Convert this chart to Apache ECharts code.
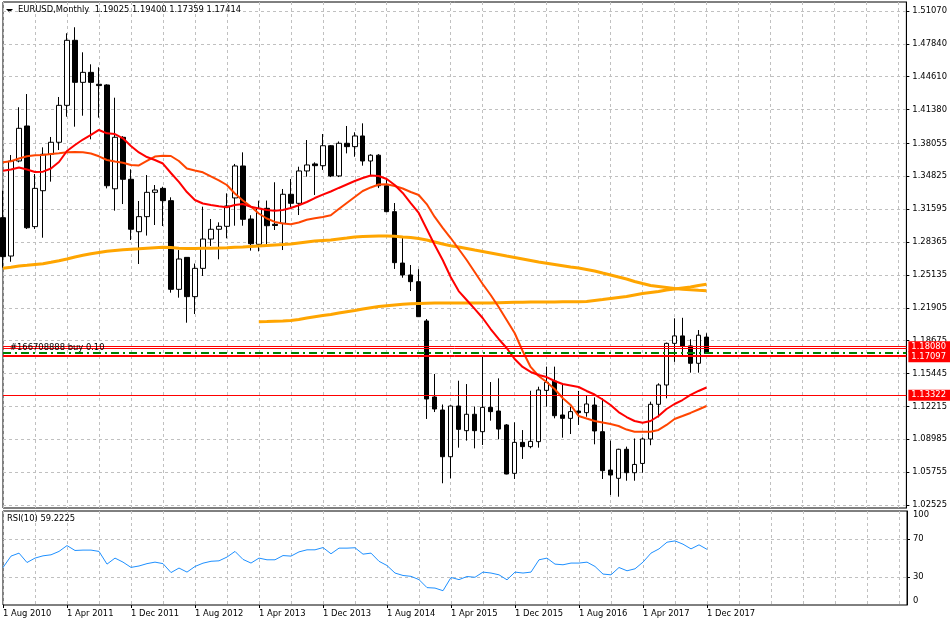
<!DOCTYPE html>
<html lang="en">
<head>
<meta charset="utf-8">
<title>EURUSD, Monthly</title>
<style>
  * { margin: 0; padding: 0; }
  html, body { background: #fff; }
  #chart-container { width: 950px; height: 626px; }
</style>
</head>
<body>
<div id="chart-container"></div>
<script src="https://fastly.jsdelivr.net/npm/echarts@6/dist/echarts.min.js"></script>
<script>
  var dom = document.getElementById('chart-container');
  var myChart = echarts.init(dom, null, { renderer: 'canvas' });

  const FONT = '"DejaVu Sans", Verdana, sans-serif';
  const FONT_SIZE = 8.4;
  const GRID_LINE = { color: '#c0c0c0', type: [3, 3], width: 1 };

  // months on the axis (the chart keeps empty space after the last bar)
  const categories = [
    '1 Aug 2010', '1 Sep 2010', '1 Oct 2010', '1 Nov 2010', '1 Dec 2010',
    '1 Jan 2011', '1 Feb 2011', '1 Mar 2011', '1 Apr 2011', '1 May 2011', '1 Jun 2011',
    '1 Jul 2011', '1 Aug 2011', '1 Sep 2011', '1 Oct 2011', '1 Nov 2011', '1 Dec 2011',
    '1 Jan 2012', '1 Feb 2012', '1 Mar 2012', '1 Apr 2012', '1 May 2012', '1 Jun 2012',
    '1 Jul 2012', '1 Aug 2012', '1 Sep 2012', '1 Oct 2012', '1 Nov 2012', '1 Dec 2012',
    '1 Jan 2013', '1 Feb 2013', '1 Mar 2013', '1 Apr 2013', '1 May 2013', '1 Jun 2013',
    '1 Jul 2013', '1 Aug 2013', '1 Sep 2013', '1 Oct 2013', '1 Nov 2013', '1 Dec 2013',
    '1 Jan 2014', '1 Feb 2014', '1 Mar 2014', '1 Apr 2014', '1 May 2014', '1 Jun 2014',
    '1 Jul 2014', '1 Aug 2014', '1 Sep 2014', '1 Oct 2014', '1 Nov 2014', '1 Dec 2014',
    '1 Jan 2015', '1 Feb 2015', '1 Mar 2015', '1 Apr 2015', '1 May 2015', '1 Jun 2015',
    '1 Jul 2015', '1 Aug 2015', '1 Sep 2015', '1 Oct 2015', '1 Nov 2015', '1 Dec 2015',
    '1 Jan 2016', '1 Feb 2016', '1 Mar 2016', '1 Apr 2016', '1 May 2016', '1 Jun 2016',
    '1 Jul 2016', '1 Aug 2016', '1 Sep 2016', '1 Oct 2016', '1 Nov 2016', '1 Dec 2016',
    '1 Jan 2017', '1 Feb 2017', '1 Mar 2017', '1 Apr 2017', '1 May 2017', '1 Jun 2017',
    '1 Jul 2017', '1 Aug 2017', '1 Sep 2017', '1 Oct 2017', '1 Nov 2017', '1 Dec 2017',
    '1 Jan 2018', '1 Feb 2018', '1 Mar 2018', '1 Apr 2018', '1 May 2018', '1 Jun 2018',
    '1 Jul 2018', '1 Aug 2018', '1 Sep 2018', '1 Oct 2018', '1 Nov 2018', '1 Dec 2018',
    '1 Jan 2019', '1 Feb 2019', '1 Mar 2019', '1 Apr 2019', '1 May 2019', '1 Jun 2019',
    '1 Jul 2019', '1 Aug 2019', '1 Sep 2019', '1 Oct 2019', '1 Nov 2019', '1 Dec 2019',
    '1 Jan 2020'
  ];

  // monthly OHLC, Aug 2010 .. Dec 2017
  const open = [
    1.3076, 1.2699, 1.3633, 1.3977, 1.2988, 1.3341, 1.3699, 1.3817, 1.4180, 1.4819,
    1.4406, 1.4504, 1.4387, 1.4380, 1.3360, 1.3866, 1.3453, 1.2938, 1.3086, 1.3325,
    1.3364, 1.3243, 1.2372, 1.2686, 1.2300, 1.2578, 1.2866, 1.2962, 1.2991, 1.3270,
    1.3584, 1.3063, 1.2814, 1.3168, 1.3011, 1.3021, 1.3306, 1.3217, 1.3535, 1.3604,
    1.3587, 1.3783, 1.3486, 1.3807, 1.3774, 1.3879, 1.3633, 1.3690, 1.3390, 1.3135,
    1.2630, 1.2513, 1.2447, 1.2061, 1.1314, 1.1186, 1.0727, 1.1225, 1.0983, 1.1144,
    1.0973, 1.1212, 1.1176, 1.1039, 1.0564, 1.0868, 1.0826, 1.0875, 1.1379, 1.1471,
    1.1137, 1.1104, 1.1176, 1.1160, 1.1235, 1.0973, 1.0596, 1.0515, 1.0800, 1.0570,
    1.0661, 1.0901, 1.1242, 1.1432, 1.1841, 1.1914, 1.1816, 1.1645, 1.19025
  ];
  const high = [
    1.3341, 1.3692, 1.4161, 1.4291, 1.3505, 1.3767, 1.3869, 1.4262, 1.4888, 1.4947,
    1.4701, 1.4583, 1.4554, 1.4387, 1.4255, 1.3877, 1.3551, 1.3240, 1.3495, 1.3397,
    1.3380, 1.3276, 1.2758, 1.2686, 1.2625, 1.3184, 1.3063, 1.3030, 1.3315, 1.3604,
    1.3718, 1.3100, 1.3243, 1.3244, 1.3424, 1.3358, 1.3456, 1.3577, 1.3839, 1.3620,
    1.3898, 1.3790, 1.3825, 1.3977, 1.3915, 1.4003, 1.3699, 1.3700, 1.3446, 1.3220,
    1.2896, 1.2611, 1.2570, 1.2080, 1.1540, 1.1240, 1.1230, 1.1474, 1.1441, 1.1220,
    1.1717, 1.1461, 1.1497, 1.1048, 1.1065, 1.0989, 1.1375, 1.1415, 1.1612, 1.1612,
    1.1448, 1.1219, 1.1373, 1.1327, 1.1310, 1.1300, 1.0885, 1.0805, 1.0826, 1.0906,
    1.0917, 1.1268, 1.1448, 1.1848, 1.2087, 1.2092, 1.1881, 1.1972, 1.19400
  ];
  const low = [
    1.2585, 1.2643, 1.3620, 1.2965, 1.2965, 1.2879, 1.3430, 1.3741, 1.4068, 1.3970,
    1.4078, 1.3846, 1.4059, 1.3364, 1.3145, 1.3210, 1.2857, 1.2621, 1.2900, 1.3004,
    1.2994, 1.2339, 1.2290, 1.2044, 1.2129, 1.2503, 1.2798, 1.2667, 1.2873, 1.2997,
    1.2997, 1.2752, 1.2745, 1.2801, 1.2955, 1.2758, 1.3174, 1.3102, 1.3479, 1.3299,
    1.3545, 1.3475, 1.3475, 1.3708, 1.3675, 1.3587, 1.3495, 1.3367, 1.3130, 1.2572,
    1.2486, 1.2355, 1.2100, 1.1098, 1.1166, 1.0466, 1.0515, 1.0816, 1.0885, 1.0809,
    1.0842, 1.1081, 1.0898, 1.0554, 1.0508, 1.0705, 1.0810, 1.0816, 1.1219, 1.1104,
    1.0914, 1.0950, 1.1039, 1.1120, 1.0849, 1.0508, 1.0351, 1.0334, 1.0491, 1.0491,
    1.0570, 1.0840, 1.1113, 1.1301, 1.1659, 1.1717, 1.1553, 1.1553, 1.17359
  ];
  const close = [
    1.2693, 1.3633, 1.3954, 1.2977, 1.3364, 1.3699, 1.3817, 1.4180, 1.4819, 1.4406,
    1.4504, 1.4406, 1.4374, 1.3390, 1.3866, 1.3453, 1.2962, 1.3086, 1.3325, 1.3348,
    1.3243, 1.2372, 1.2670, 1.2300, 1.2578, 1.2866, 1.2962, 1.2991, 1.3191, 1.3584,
    1.3060, 1.2820, 1.3168, 1.2997, 1.2999, 1.3306, 1.3217, 1.3535, 1.3594, 1.3587,
    1.3783, 1.3486, 1.3807, 1.3774, 1.3879, 1.3633, 1.3690, 1.3390, 1.3135, 1.2634,
    1.2513, 1.2447, 1.2103, 1.1294, 1.1196, 1.0727, 1.1225, 1.0996, 1.1144, 1.0983,
    1.1212, 1.1170, 1.0999, 1.0557, 1.0868, 1.0826, 1.0878, 1.1383, 1.1458, 1.1130,
    1.1104, 1.1170, 1.1160, 1.1245, 1.0980, 1.0590, 1.0547, 1.0800, 1.0570, 1.0651,
    1.0901, 1.1242, 1.1432, 1.1841, 1.1914, 1.1816, 1.1645, 1.1921, 1.17414
  ];

  // moving averages
  const maRed = [
    1.3538, 1.3549, 1.3569, 1.3549, 1.3525, 1.3528, 1.3559, 1.3623, 1.3731, 1.3790,
    1.3844, 1.3889, 1.3938, 1.3905, 1.3898, 1.3856, 1.3780, 1.3717, 1.3672, 1.3643,
    1.3608, 1.3515, 1.3427, 1.3328, 1.3250, 1.3215, 1.3201, 1.3188, 1.3178, 1.3201,
    1.3210, 1.3184, 1.3166, 1.3151, 1.3145, 1.3151, 1.3171, 1.3198, 1.3230, 1.3269,
    1.3302, 1.3333, 1.3368, 1.3402, 1.3436, 1.3466, 1.3491, 1.3486, 1.3456, 1.3397,
    1.3319, 1.3220, 1.3122, 1.2965, 1.2808, 1.2660, 1.2493, 1.2355, 1.2267, 1.2179,
    1.2090, 1.1982, 1.1884, 1.1795, 1.1687, 1.1609, 1.1560, 1.1530, 1.1510, 1.1471,
    1.1442, 1.1427, 1.1412, 1.1373, 1.1338, 1.1289, 1.1235, 1.1166, 1.1117, 1.1078,
    1.1061, 1.1078, 1.1127, 1.1196, 1.1245, 1.1284, 1.1334, 1.1373, 1.1407
  ];
  const maOrangeRed = [
    1.3620, 1.3630, 1.3658, 1.3679, 1.3689, 1.3692, 1.3702, 1.3709, 1.3719, 1.3721,
    1.3719, 1.3707, 1.3679, 1.3643, 1.3628, 1.3616, 1.3594, 1.3589, 1.3633, 1.3677,
    1.3685, 1.3682, 1.3633, 1.3559, 1.3540, 1.3522, 1.3481, 1.3443, 1.3397, 1.3314,
    1.3245, 1.3186, 1.3117, 1.3068, 1.3034, 1.3019, 1.3011, 1.3029, 1.3055, 1.3070,
    1.3083, 1.3099, 1.3161, 1.3220, 1.3279, 1.3338, 1.3373, 1.3402, 1.3404, 1.3387,
    1.3363, 1.3328, 1.3299, 1.3210, 1.3083, 1.2975, 1.2876, 1.2768, 1.2660, 1.2542,
    1.2424, 1.2316, 1.2198, 1.2070, 1.1943, 1.1766, 1.1609, 1.1520, 1.1461, 1.1392,
    1.1304, 1.1236, 1.1127, 1.1102, 1.1078, 1.1063, 1.1048, 1.1029, 1.0994, 1.0973,
    1.0973, 1.0973, 1.0990, 1.1039, 1.1098, 1.1127, 1.1157, 1.1191, 1.1225
  ];
  const maLong = [
    1.2579, 1.2588, 1.2601, 1.2608, 1.2616, 1.2624, 1.2638, 1.2653, 1.2670, 1.2690,
    1.2706, 1.2722, 1.2734, 1.2746, 1.2754, 1.2761, 1.2766, 1.2770, 1.2776, 1.2781,
    1.2785, 1.2782, 1.2776, 1.2772, 1.2773, 1.2775, 1.2776, 1.2778, 1.2781, 1.2785,
    1.2788, 1.2793, 1.2798, 1.2803, 1.2808, 1.2812, 1.2817, 1.2827, 1.2837, 1.2847,
    1.2852, 1.2857, 1.2867, 1.2876, 1.2886, 1.2891, 1.2894, 1.2896, 1.2896, 1.2893,
    1.2886, 1.2881, 1.2871, 1.2857, 1.2837, 1.2817, 1.2801, 1.2788, 1.2773, 1.2758,
    1.2744, 1.2729, 1.2714, 1.2699, 1.2685, 1.2670, 1.2655, 1.2640, 1.2628, 1.2616,
    1.2604, 1.2591, 1.2581, 1.2567, 1.2552, 1.2532, 1.2513, 1.2493, 1.2473, 1.2449,
    1.2429, 1.2410, 1.2400, 1.2390, 1.2380, 1.2373, 1.2367, 1.2362, 1.2358
  ];
  // the longest average only starts at Apr 2013
  const maLongestStart = 32;
  const maLongest = [
    1.2054, 1.2056, 1.2059, 1.2061, 1.2066, 1.2075, 1.2090, 1.2103,
    1.2115, 1.2125, 1.2139, 1.2152, 1.2164, 1.2178, 1.2191, 1.2203, 1.2211, 1.2218,
    1.2225, 1.2230, 1.2233, 1.2236, 1.2238, 1.2238, 1.2238, 1.2238, 1.2238, 1.2238,
    1.2238, 1.2238, 1.2240, 1.2242, 1.2244, 1.2246, 1.2248, 1.2248, 1.2248, 1.2248,
    1.2250, 1.2251, 1.2251, 1.2253, 1.2263, 1.2272, 1.2282, 1.2292, 1.2302, 1.2317,
    1.2331, 1.2341, 1.2351, 1.2366, 1.2375, 1.2385, 1.2395, 1.2410, 1.2421
  ];

  const rsi = [
    39.9, 52.0, 55.2, 45.2, 49.9, 52.3, 53.4, 57.0, 63.2, 58.0,
    58.4, 58.4, 57.0, 43.5, 49.9, 45.6, 40.0, 41.5, 44.0, 45.6,
    44.0, 34.5, 39.3, 35.0, 41.0, 44.5, 46.5, 47.0, 51.0, 57.0,
    48.5, 44.6, 49.9, 48.1, 48.1, 52.6, 52.0, 56.5, 58.7, 58.7,
    61.1, 54.5, 60.5, 60.5, 60.9, 54.1, 55.2, 46.5, 42.0, 34.0,
    31.4, 30.5, 27.0, 18.5, 18.0, 15.2, 29.3, 27.0, 30.3, 29.5,
    35.0, 34.0, 32.1, 26.8, 35.0, 34.0, 35.0, 48.1, 49.9, 43.5,
    42.8, 44.6, 44.6, 45.6, 41.0, 32.9, 32.1, 39.9, 36.4, 38.5,
    45.6, 55.2, 59.7, 66.8, 68.2, 64.7, 59.7, 64.0, 59.2225
  ];

  const priceTicks = [1.02525, 1.05755, 1.08985, 1.12215, 1.15445, 1.18675, 1.21905, 1.25135,
    1.28365, 1.31595, 1.34825, 1.38055, 1.41380, 1.44610, 1.47840, 1.51070];
  const rsiLabels = [0, 30, 70, 100];
  const rsiLevels = [30, 70];

  // order / stop lines
  const redLevels = [1.1808, 1.1792, 1.1724, 1.17097];
  const taggedLevels = [1.1808, 1.17097];
  const stopLevel = 1.13322;
  const openLevel = 1.1752;
  const orderText = '#166708888 buy 0.10';

  const last = open.length - 1;
  const labelEvery = function (index) { return index % 8 === 0 && index <= last; };

  const candleData = open.map(function (o, i) { return [o, close[i], low[i], high[i]]; });
  const longestData = new Array(maLongestStart).fill(null).concat(maLongest);

  const axisText = { color: '#000', fontSize: FONT_SIZE, fontFamily: FONT };
  const priceTag = {
    show: true, position: 'end', distance: 2,
    color: '#fff', backgroundColor: '#ff0000', padding: [2, 4, 1, 3],
    fontSize: FONT_SIZE, fontFamily: FONT,
    formatter: function (p) { return Number(p.value).toFixed(5); }
  };

  const lineMarks = redLevels.map(function (v) {
    return {
      yAxis: v,
      lineStyle: { color: '#ff0000', width: 1, type: 'solid' },
      label: taggedLevels.indexOf(v) >= 0 ? priceTag : { show: false }
    };
  });
  lineMarks.push({
    yAxis: stopLevel,
    lineStyle: { color: '#ff0000', width: 1, type: 'solid' },
    label: priceTag
  });
  lineMarks.push({
    yAxis: openLevel,
    lineStyle: { color: '#008000', width: 2, type: [8, 4, 2, 4] },
    label: {
      show: true, position: 'insideStartTop', distance: [7, 1],
      color: '#000', fontSize: FONT_SIZE, fontFamily: FONT,
      formatter: orderText
    }
  });

  function maSeries(data, color, width) {
    return {
      type: 'line', xAxisIndex: 0, yAxisIndex: 0, data: data,
      showSymbol: false, silent: true, z: 4,
      lineStyle: { color: color, width: width }
    };
  }

  var option = {
    animation: false,
    backgroundColor: '#fff',
    textStyle: { fontFamily: FONT },
    title: [
      {
        text: 'EURUSD,Monthly  ' + [open[last], high[last], low[last], close[last]].map(function (v) { return v.toFixed(5); }).join(' '),
        left: 18, top: 6, padding: 0,
        textStyle: { color: '#000', fontSize: FONT_SIZE, fontWeight: 'normal', fontFamily: FONT }
      },
      {
        text: 'RSI(10) ' + rsi[last],
        left: 7, top: 515, padding: 0,
        textStyle: { color: '#000', fontSize: FONT_SIZE, fontWeight: 'normal', fontFamily: FONT }
      }
    ],
    graphic: [
      { type: 'polygon', shape: { points: [[6, 9], [13, 9], [9.5, 12.5]] }, style: { fill: '#000' } }
    ],
    grid: [
      { left: 3, top: 2, width: 904, height: 506, show: true, borderColor: '#000', borderWidth: 1 },
      { left: 3, top: 511, width: 904, height: 94, show: true, borderColor: '#000', borderWidth: 1 }
    ],
    xAxis: [
      {
        gridIndex: 0, type: 'category', data: categories, boundaryGap: false,
        axisLine: { show: false }, axisTick: { show: false }, axisLabel: { show: false },
        splitLine: { show: true, interval: 3, lineStyle: GRID_LINE }
      },
      {
        gridIndex: 1, type: 'category', data: categories, boundaryGap: false,
        axisLine: { show: false },
        axisTick: { show: true, interval: labelEvery, length: 3, lineStyle: { color: '#000' } },
        axisLabel: Object.assign({ show: true, interval: labelEvery, align: 'left', margin: 5 }, axisText),
        splitLine: { show: true, interval: 3, lineStyle: GRID_LINE }
      }
    ],
    yAxis: [
      {
        gridIndex: 0, type: 'value', position: 'right', min: 1.0223, max: 1.51954,
        axisLine: { show: true, lineStyle: { color: '#000' } },
        axisTick: { show: true, length: 3, customValues: priceTicks, lineStyle: { color: '#000' } },
        axisLabel: Object.assign({
          customValues: priceTicks, margin: 6,
          formatter: function (v) { return v.toFixed(5); }
        }, axisText),
        splitLine: { show: true, lineStyle: GRID_LINE }
      },
      {
        gridIndex: 1, type: 'value', position: 'right', min: 0, max: 100,
        axisLine: { show: true, lineStyle: { color: '#000' } },
        axisTick: { show: true, length: 3, customValues: rsiLevels, lineStyle: { color: '#000' } },
        axisLabel: Object.assign({
          customValues: rsiLabels, margin: 6,
          verticalAlignMinLabel: 'bottom', verticalAlignMaxLabel: 'top'
        }, axisText),
        splitLine: { show: true, lineStyle: GRID_LINE }
      }
    ],
    series: [
      {
        type: 'candlestick', xAxisIndex: 0, yAxisIndex: 0, data: candleData,
        barWidth: 5, silent: true, z: 3,
        itemStyle: { color: '#fff', color0: '#000', borderColor: '#000', borderColor0: '#000', borderWidth: 1 },
        markLine: { symbol: ['none', 'none'], silent: true, animation: false, precision: 5, data: lineMarks }
      },
      maSeries(maLong, '#ffa500', 3),
      maSeries(longestData, '#ffa500', 3),
      maSeries(maOrangeRed, '#ff4500', 2),
      maSeries(maRed, '#ff0000', 2),
      {
        type: 'line', xAxisIndex: 1, yAxisIndex: 1, data: rsi,
        showSymbol: false, silent: true,
        lineStyle: { color: '#1e90ff', width: 1 }
      }
    ]
  };

  myChart.setOption(option);
  window.addEventListener('resize', myChart.resize);
</script>
</body>
</html>
